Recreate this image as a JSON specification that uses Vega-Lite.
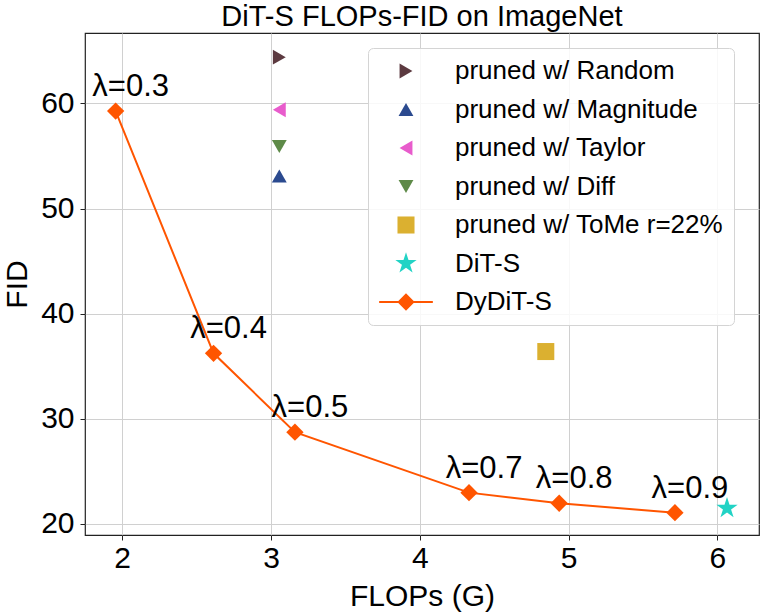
{
  "$schema": "https://vega.github.io/schema/vega-lite/v6.json",
  "autosize": {"type": "none"},
  "width": 674,
  "height": 502,
  "padding": {"left": 85, "top": 33, "right": 2, "bottom": 80},
  "background": "white",
  "config": {
    "font": "Liberation Sans",
    "view": {"stroke": "#222222", "strokeWidth": 1.2},
    "axis": {
      "grid": true,
      "gridColor": "#d0d0d0",
      "gridWidth": 1,
      "domain": false,
      "tickColor": "#222222",
      "tickSize": 5,
      "labelFontSize": 30,
      "labelColor": "#000000",
      "titleFontSize": 30,
      "titleFontWeight": "normal",
      "titleColor": "#000000"
    }
  },
  "title": {
    "text": "DiT-S FLOPs-FID on ImageNet",
    "fontSize": 29,
    "fontWeight": "normal",
    "color": "#000000",
    "anchor": "middle",
    "frame": "group",
    "offset": 1
  },
  "data": {
    "values": [
      {"method": "pruned w/ Random", "flops": 3.056, "fid": 64.4, "label": ""},
      {"method": "pruned w/ Magnitude", "flops": 3.056, "fid": 53.1, "label": ""},
      {"method": "pruned w/ Taylor", "flops": 3.056, "fid": 59.4, "label": ""},
      {"method": "pruned w/ Diff", "flops": 3.056, "fid": 55.9, "label": ""},
      {"method": "pruned w/ ToMe r=22%", "flops": 4.847, "fid": 36.4, "label": ""},
      {"method": "DiT-S", "flops": 6.065, "fid": 21.5, "label": ""},
      {"method": "DyDiT-S", "flops": 1.956, "fid": 59.27, "label": "λ=0.3"},
      {"method": "DyDiT-S", "flops": 2.614, "fid": 36.23, "label": "λ=0.4"},
      {"method": "DyDiT-S", "flops": 3.161, "fid": 28.73, "label": "λ=0.5"},
      {"method": "DyDiT-S", "flops": 4.331, "fid": 22.98, "label": "λ=0.7"},
      {"method": "DyDiT-S", "flops": 4.937, "fid": 21.97, "label": "λ=0.8"},
      {"method": "DyDiT-S", "flops": 5.715, "fid": 21.07, "label": "λ=0.9"}
    ]
  },
  "encoding": {
    "x": {
      "field": "flops",
      "type": "quantitative",
      "title": "FLOPs (G)",
      "scale": {"domain": [1.75, 6.28], "nice": false, "zero": false},
      "axis": {"values": [2, 3, 4, 5, 6], "labelPadding": 3, "titlePadding": 8}
    },
    "y": {
      "field": "fid",
      "type": "quantitative",
      "title": "FID",
      "scale": {"domain": [18.95, 66.7], "nice": false, "zero": false},
      "axis": {"values": [20, 30, 40, 50, 60], "labelPadding": 6, "titlePadding": 8}
    }
  },
  "layer": [
    {
      "transform": [{"filter": "datum.method === 'DyDiT-S'"}],
      "mark": {"type": "line", "color": "#ff5500", "strokeWidth": 2},
      "encoding": {}
    },
    {
      "transform": [{"filter": "datum.method !== 'DyDiT-S'"}],
      "mark": {"type": "point", "filled": true, "opacity": 1, "strokeWidth": 0},
      "encoding": {
        "color": {
          "field": "method",
          "type": "nominal",
          "scale": {
            "domain": ["pruned w/ Random", "pruned w/ Magnitude", "pruned w/ Taylor", "pruned w/ Diff", "pruned w/ ToMe r=22%", "DiT-S", "DyDiT-S"],
            "range": ["#5c3a40", "#2b4a8f", "#e85ccc", "#5e8a48", "#dbb030", "#22d3c5", "#ff5500"]
          },
          "legend": {
            "title": null,
            "orient": "none",
            "legendX": 283,
            "legendY": 15,
            "direction": "vertical",
            "fillColor": "rgba(255,255,255,0.85)",
            "strokeColor": "#d4d4d4",
            "cornerRadius": 5,
            "padding": 10,
            "labelFontSize": 26,
            "labelColor": "#000000",
            "labelLimit": 500,
            "labelOffset": 36,
            "symbolOffset": 15,
            "rowPadding": 12.5,
            "symbolStrokeWidth": 0,
            "symbolOpacity": 1
          }
        },
        "shape": {
          "field": "method",
          "type": "nominal",
          "scale": {
            "domain": ["pruned w/ Random", "pruned w/ Magnitude", "pruned w/ Taylor", "pruned w/ Diff", "pruned w/ ToMe r=22%", "DiT-S", "DyDiT-S"],
            "range": ["triangle-right", "triangle-up", "triangle-left", "triangle-down", "square", "M0,-1L0.2245,-0.309L0.951,-0.309L0.363,0.118L0.588,0.809L0,0.382L-0.588,0.809L-0.363,0.118L-0.951,-0.309L-0.2245,-0.309Z", "M-3.1,-0.12L3.1,-0.12L3.1,0.12L-3.1,0.12ZM0,-1L1,0L0,1L-1,0Z"]
          }
        },
        "size": {
          "field": "method",
          "type": "ordinal",
          "scale": {
            "type": "ordinal",
            "domain": ["pruned w/ Random", "pruned w/ Magnitude", "pruned w/ Taylor", "pruned w/ Diff", "pruned w/ ToMe r=22%", "DiT-S", "DyDiT-S"],
            "range": [220, 220, 220, 220, 290, 500, 300]
          }
        }
      }
    },
    {
      "transform": [{"filter": "datum.method === 'DyDiT-S'"}],
      "mark": {"type": "point", "shape": "diamond", "filled": true, "opacity": 1, "color": "#ff5500", "size": 300, "strokeWidth": 0},
      "encoding": {}
    },
    {
      "transform": [{"filter": "datum.method === 'DyDiT-S'"}],
      "mark": {"type": "text", "fontSize": 31, "color": "#000000", "align": "center", "baseline": "alphabetic", "dx": 15, "dy": -15},
      "encoding": {"text": {"field": "label"}}
    }
  ]
}
